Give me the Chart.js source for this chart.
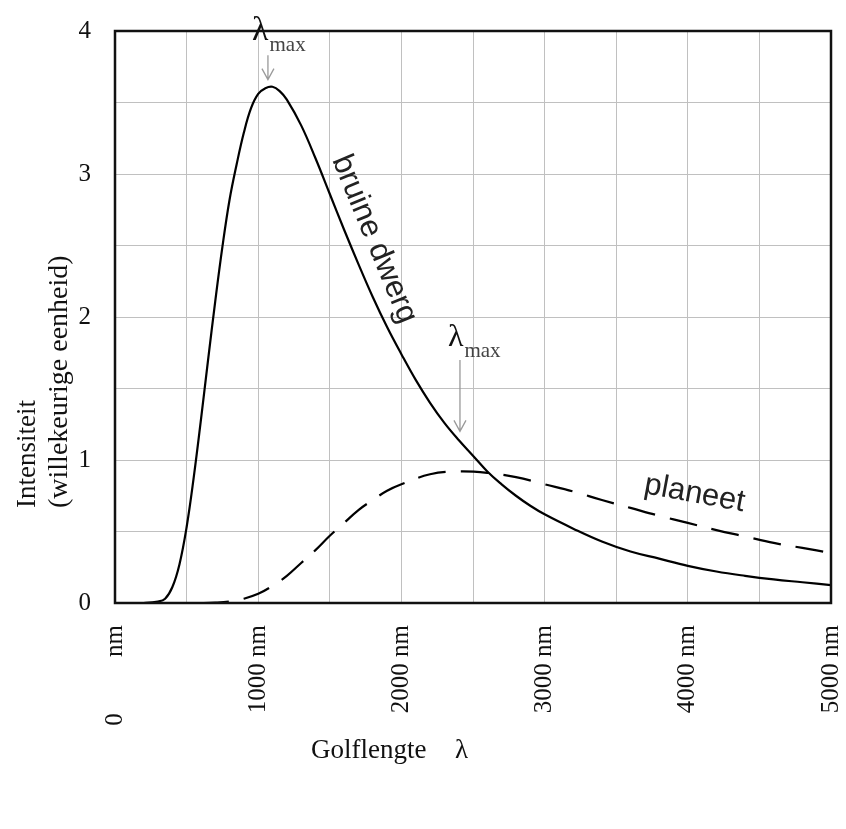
<!DOCTYPE html>
<html>
<head>
<meta charset="utf-8">
<script src="https://cdn.jsdelivr.net/npm/chart.js@4.4.1/dist/chart.umd.min.js"></script>
<style>
  html, body { margin: 0; padding: 0; background: #fff; }
  #wrap { width: 846px; height: 829px; position: relative; }
</style>
</head>
<body>
<div id="wrap"><canvas id="planck"></canvas></div>
<script>
// Brown dwarf (solid) - wavelength in nm, intensity in arbitrary units
const bdWavelength = [0, 100, 200, 300, 350, 400, 450, 500, 550, 600, 650, 700, 750, 800, 850, 900, 950, 1000, 1050, 1100, 1150, 1200, 1300, 1400, 1500, 1600, 1700, 1800, 1900, 2000, 2100, 2200, 2300, 2400, 2500, 2600, 2700, 2800, 2900, 3000, 3200, 3400, 3600, 3800, 4000, 4200, 4400, 4600, 4800, 5000];
const bdIntensity = [0, 0, 0, 0.01, 0.03, 0.11, 0.27, 0.53, 0.88, 1.28, 1.70, 2.11, 2.49, 2.82, 3.07, 3.29, 3.46, 3.56, 3.60, 3.61, 3.58, 3.52, 3.34, 3.11, 2.86, 2.61, 2.37, 2.14, 1.93, 1.74, 1.56, 1.40, 1.26, 1.14, 1.03, 0.92, 0.83, 0.75, 0.68, 0.62, 0.52, 0.43, 0.36, 0.31, 0.26, 0.22, 0.19, 0.165, 0.145, 0.125];

// Planet (dashed)
const plWavelength = [0, 200, 400, 600, 700, 800, 900, 1000, 1100, 1200, 1300, 1400, 1500, 1600, 1700, 1800, 1900, 2000, 2200, 2400, 2600, 2800, 3000, 3200, 3400, 3600, 3800, 4000, 4200, 4400, 4600, 4800, 5000];
const plIntensity = [0, 0, 0, 0, 0.002, 0.01, 0.03, 0.064, 0.12, 0.19, 0.28, 0.37, 0.47, 0.56, 0.65, 0.72, 0.785, 0.83, 0.90, 0.92, 0.91, 0.88, 0.83, 0.78, 0.72, 0.665, 0.61, 0.56, 0.51, 0.465, 0.42, 0.385, 0.35];

// Tick labels
const xTickValues = [0, 1000, 2000, 3000, 4000, 5000];
const xTickLabels = ["0         nm", "1000 nm", "2000 nm", "3000 nm", "4000 nm", "5000 nm"];
const yTickValues = [0, 1, 2, 3, 4];
const yTickLabels = ["0", "1", "2", "3", "4"];

const SERIF = "'Liberation Serif', 'Times New Roman', serif";
const SANS = "'Liberation Sans', Arial, sans-serif";

function toPoints(xs, ys) {
  return xs.map((x, i) => ({ x, y: ys[i] }));
}

// frame + text annotations
const annotations = {
  id: "annotations",
  afterDatasetsDraw(chart) {
    const { ctx, chartArea: a, scales } = chart;
    const px = (v) => scales.x.getPixelForValue(v);
    const py = (v) => scales.y.getPixelForValue(v);

    ctx.save();
    // plot frame
    ctx.strokeStyle = "#111";
    ctx.lineWidth = 2.5;
    ctx.strokeRect(a.left, a.top, a.right - a.left, a.bottom - a.top);

    // arrows for lambda max
    const arrow = (x, y1, y2) => {
      ctx.strokeStyle = "#9a9a9a";
      ctx.lineWidth = 1.3;
      ctx.beginPath();
      ctx.moveTo(x, y1);
      ctx.lineTo(x, y2);
      ctx.moveTo(x - 6, y2 - 11);
      ctx.lineTo(x, y2);
      ctx.lineTo(x + 6, y2 - 11);
      ctx.stroke();
    };
    arrow(px(1068), py(3.83), py(3.66));
    arrow(px(2409), py(1.70), py(1.20));

    const lambdaMax = (x, y, size) => {
      ctx.fillStyle = "#111";
      ctx.font = size + "px " + SERIF;
      ctx.textAlign = "left";
      ctx.textBaseline = "alphabetic";
      ctx.fillText("λ", x, y);
      const w = ctx.measureText("λ").width;
      ctx.fillStyle = "#444";
      ctx.font = "21px " + SERIF;
      ctx.fillText("max", x + w + 1, y + 11);
    };
    lambdaMax(px(957), py(3.94), 34);
    lambdaMax(px(2325), py(1.80), 32);

    // rotated labels along the curves
    ctx.fillStyle = "#222";
    ctx.font = "31px " + SANS;
    ctx.save();
    ctx.translate(px(1515), py(3.10));
    ctx.rotate((67.5 * Math.PI) / 180);
    ctx.fillText("bruine dwerg", 0, 0);
    ctx.restore();

    ctx.font = "31px " + SANS;
    ctx.save();
    ctx.translate(px(3687), py(0.77));
    ctx.rotate((10.5 * Math.PI) / 180);
    ctx.fillText("planeet", 0, 0);
    ctx.restore();

    // axis titles
    ctx.fillStyle = "#111";
    ctx.font = "27px " + SERIF;
    ctx.fillText("Golflengte", 311, 758);
    ctx.fillText("λ", 455, 758);

    ctx.save();
    ctx.translate(35, 508);
    ctx.rotate(-Math.PI / 2);
    ctx.fillText("Intensiteit", 0, 0);
    ctx.restore();
    ctx.save();
    ctx.font = "28px " + SERIF;
    ctx.translate(67, 508);
    ctx.rotate(-Math.PI / 2);
    ctx.fillText("(willekeurige eenheid)", 0, 0);
    ctx.restore();

    ctx.restore();
  },
};

new Chart(document.getElementById("planck"), {
  type: "line",
  data: {
    datasets: [
      {
        label: "bruine dwerg",
        data: toPoints(bdWavelength, bdIntensity),
        borderColor: "#000",
        borderWidth: 2.2,
        pointRadius: 0,
        tension: 0.4,
        fill: false,
      },
      {
        label: "planeet",
        data: toPoints(plWavelength, plIntensity),
        borderColor: "#000",
        borderWidth: 2.2,
        borderDash: [28, 15],
        pointRadius: 0,
        tension: 0.4,
        fill: false,
      },
    ],
  },
  options: {
    responsive: true,
    maintainAspectRatio: false,
    animation: false,
    layout: {
      padding: { left: 55, top: 31, right: 15, bottom: 66 },
    },
    plugins: {
      legend: { display: false },
      tooltip: { enabled: false },
    },
    scales: {
      x: {
        type: "linear",
        min: 0,
        max: 5000,
        afterFit: (scale) => {
          scale.height = 160;
          scale.paddingLeft = 0;
          scale.paddingRight = 0;
        },
        border: { display: false },
        grid: { color: "#c0c0c0", lineWidth: 1, drawTicks: false },
        ticks: {
          stepSize: 500,
          autoSkip: false,
          minRotation: 90,
          maxRotation: 90,
          padding: 22,
          color: "#111",
          font: { family: SERIF, size: 25 },
          callback: (v) => {
            const i = xTickValues.indexOf(v);
            return i >= 0 ? xTickLabels[i] : "";
          },
        },
      },
      y: {
        min: 0,
        max: 4,
        afterFit: (scale) => {
          scale.width = 60;
          scale.paddingTop = 0;
          scale.paddingBottom = 0;
        },
        border: { display: false },
        grid: { color: "#c0c0c0", lineWidth: 1, drawTicks: false },
        ticks: {
          stepSize: 0.5,
          padding: 24,
          color: "#111",
          font: { family: SERIF, size: 25 },
          callback: (v) => {
            const i = yTickValues.indexOf(v);
            return i >= 0 ? yTickLabels[i] : "";
          },
        },
      },
    },
  },
  plugins: [annotations],
});
</script>
</body>
</html>
